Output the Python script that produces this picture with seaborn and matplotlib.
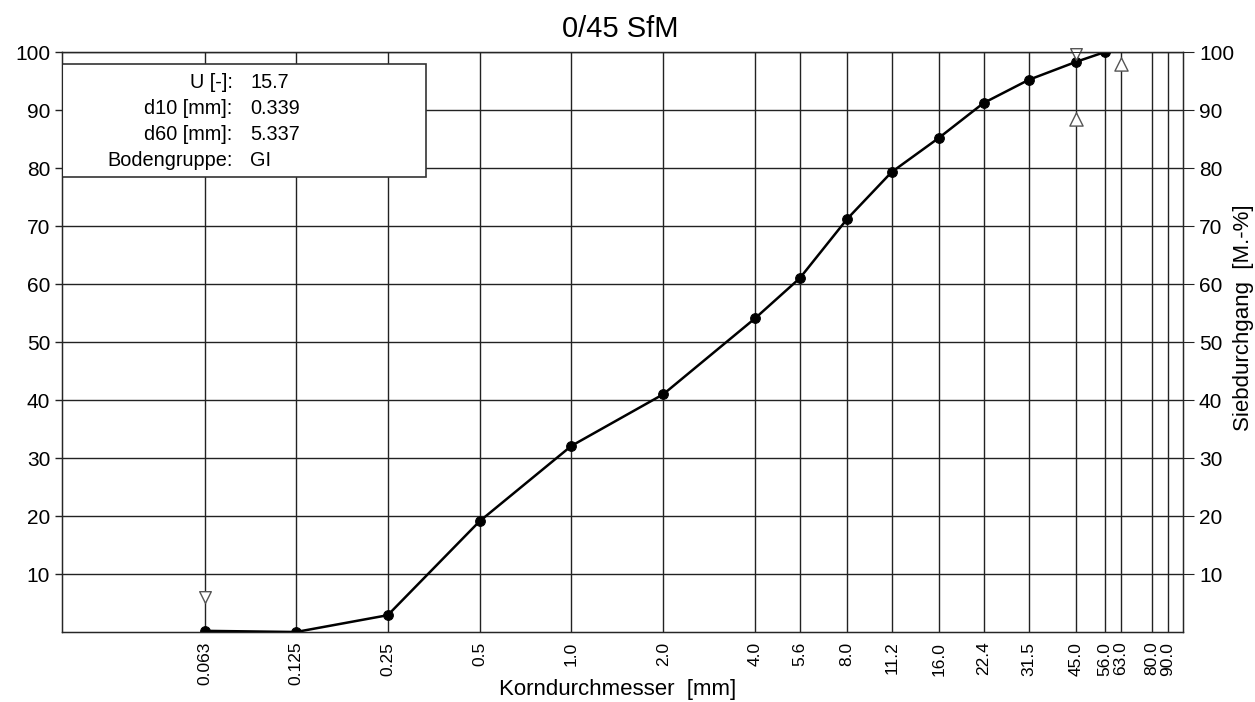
import matplotlib
matplotlib.use("Agg")
import matplotlib.pyplot as plt
import seaborn as sns
import pandas as pd
from matplotlib.patches import Rectangle

sieve_sizes = [0.063, 0.125, 0.25, 0.5, 1.0, 2.0, 4.0, 5.6, 8.0, 11.2, 16.0, 22.4, 31.5, 45.0, 56.0, 63.0, 80.0, 90.0]
tick_labels = ["0.063", "0.125", "0.25", "0.5", "1.0", "2.0", "4.0", "5.6", "8.0", "11.2",
               "16.0", "22.4", "31.5", "45.0", "56.0", "63.0", "80.0", "90.0"]
grain_sizes = [0.063, 0.125, 0.25, 0.5, 1.0, 2.0, 4.0, 5.6, 8.0, 11.2, 16.0, 22.4, 31.5, 45.0, 56.0]
passing = [0.2, 0.0, 2.9, 19.1, 32.1, 41.0, 54.1, 61.0, 71.2, 79.3, 85.2, 91.2, 95.2, 98.3, 100.0]
y_ticks = [10, 20, 30, 40, 50, 60, 70, 80, 90, 100]

# range markers (open triangles)
down_marker_x = [0.063, 45.0]
down_marker_y = [6.0, 99.6]
up_marker_x = [45.0, 63.0]
up_marker_y = [88.5, 98.0]

info_labels = ["U [-]:", "d10 [mm]:", "d60 [mm]:", "Bodengruppe:"]
info_values = ["15.7", "0.339", "5.337", "GI"]

sns.set_style("white")
plt.rcParams["font.family"] = ["Liberation Sans", "DejaVu Sans"]
plt.rcParams["text.color"] = "black"
plt.rcParams["xtick.color"] = "black"
plt.rcParams["ytick.color"] = "black"

W, H = 1255, 702
fig = plt.figure(figsize=(12.55, 7.02), dpi=100)
ax = fig.add_axes([0.0494, 0.0997, 0.8932, 0.8262])

df = pd.DataFrame({"d": grain_sizes, "p": passing})
sns.lineplot(data=df, x="d", y="p", ax=ax, color="black", linewidth=1.8,
             marker="o", markersize=7, markeredgecolor="black", zorder=5)

ax.scatter(down_marker_x, down_marker_y, marker="v", s=70, facecolors="white",
           edgecolors="#555555", linewidths=1.0, zorder=6, clip_on=False)
ax.scatter(up_marker_x, up_marker_y, marker="^", s=90, facecolors="white",
           edgecolors="#555555", linewidths=1.0, zorder=6)

ax.set_xscale("log")
ax.set_xlim(0.0214, 100.9)
ax.set_ylim(0, 100)
ax.set_xticks(sieve_sizes)
ax.set_xticklabels(tick_labels, rotation=90, fontsize=12.5)
ax.minorticks_off()
ax.set_yticks(y_ticks)
ax.set_yticklabels([str(v) for v in y_ticks], fontsize=15)
ax.grid(True, color="#222222", linewidth=1.0)
ax.tick_params(axis="both", direction="out", length=5, color="#222222", width=1.0)
ax.tick_params(axis="x", pad=2)
for s in ax.spines.values():
    s.set_color("#222222")
    s.set_linewidth(1.0)

ax2 = ax.twinx()
ax2.set_ylim(0, 100)
ax2.set_yticks(y_ticks)
ax2.set_yticklabels([str(v) for v in y_ticks], fontsize=15)
ax2.tick_params(axis="y", direction="out", length=8, color="#222222")
ax2.grid(False)

ax.set_xlabel("")
ax.set_ylabel("")
fig.text(618 / W, 1 - 690 / H, "Korndurchmesser  [mm]", ha="center", va="center", fontsize=16)
fig.text(1243 / W, 1 - 318 / H, "Siebdurchgang  [M.-%]", ha="center", va="center",
         rotation=90, fontsize=16)
fig.text(620 / W, 1 - 29 / H, "0/45 SfM", ha="center", va="center", fontsize=21)

# info box
box = Rectangle((0.0, 0.785), 0.325, 0.195, transform=ax.transAxes, facecolor="white",
                edgecolor="#333333", linewidth=1.2, zorder=7)
ax.add_patch(box)
for i, (lab, val) in enumerate(zip(info_labels, info_values)):
    yy = 0.947 - i * 0.0445
    ax.text(0.152, yy, lab, transform=ax.transAxes, ha="right", va="center", fontsize=14.3, zorder=8)
    ax.text(0.168, yy, val, transform=ax.transAxes, ha="left", va="center", fontsize=14.3, zorder=8)

fig.savefig("out.png", dpi=100)
